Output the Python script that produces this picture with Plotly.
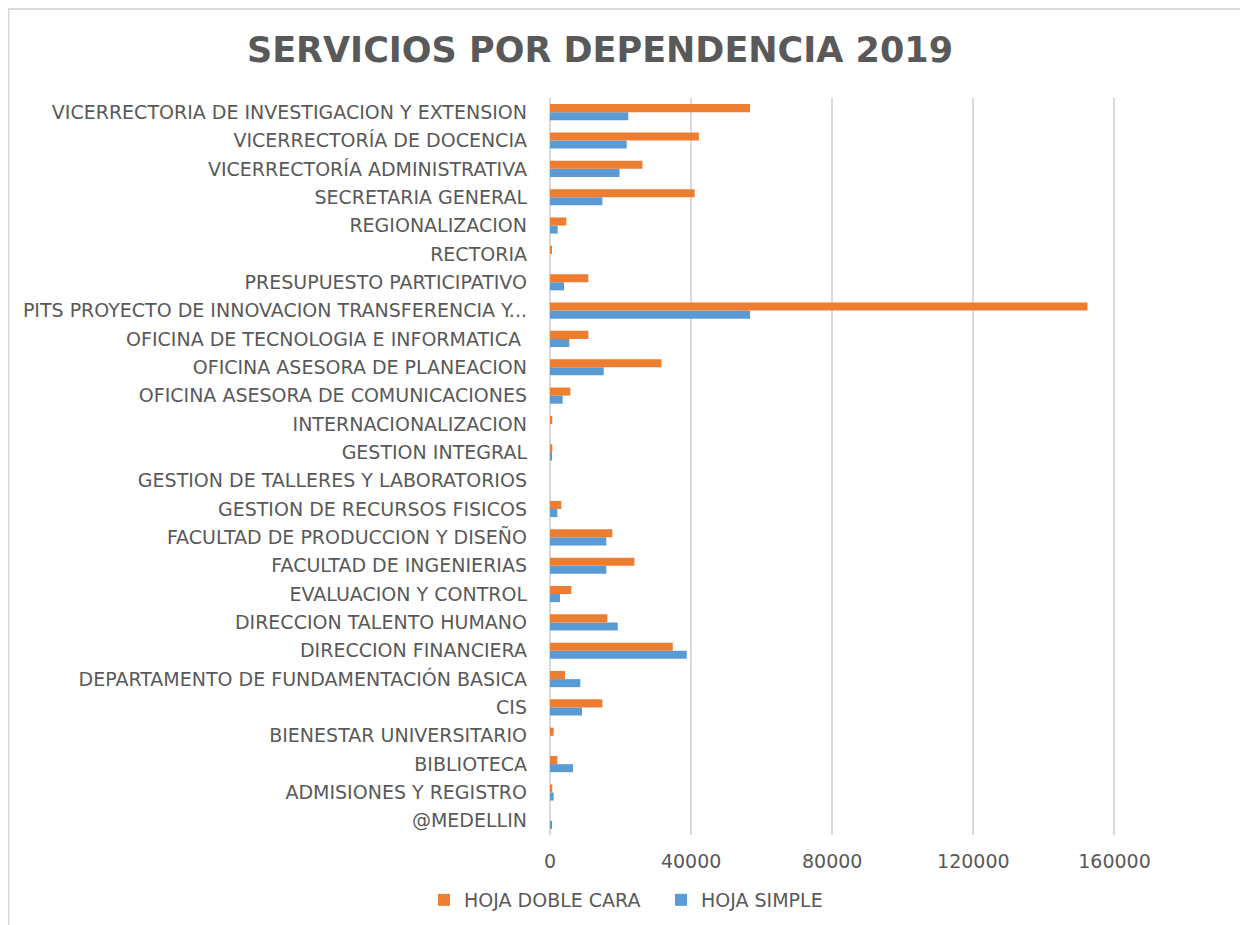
import plotly.graph_objects as go

# Categories listed from bottom to top
categories = [
    "@MEDELLIN",
    "ADMISIONES Y REGISTRO",
    "BIBLIOTECA",
    "BIENESTAR UNIVERSITARIO",
    "CIS",
    "DEPARTAMENTO DE FUNDAMENTACIÓN BASICA",
    "DIRECCION FINANCIERA",
    "DIRECCION TALENTO HUMANO",
    "EVALUACION Y CONTROL",
    "FACULTAD DE INGENIERIAS",
    "FACULTAD DE PRODUCCION Y DISEÑO",
    "GESTION DE RECURSOS FISICOS",
    "GESTION DE TALLERES Y LABORATORIOS",
    "GESTION INTEGRAL",
    "INTERNACIONALIZACION",
    "OFICINA ASESORA DE COMUNICACIONES",
    "OFICINA ASESORA DE PLANEACION",
    "OFICINA DE TECNOLOGIA E INFORMATICA ",
    "PITS PROYECTO DE INNOVACION TRANSFERENCIA Y...",
    "PRESUPUESTO PARTICIPATIVO",
    "RECTORIA",
    "REGIONALIZACION",
    "SECRETARIA GENERAL",
    "VICERRECTORÍA ADMINISTRATIVA",
    "VICERRECTORÍA DE DOCENCIA",
    "VICERRECTORIA DE INVESTIGACION Y EXTENSION",
]

hoja_doble_cara = [
    0, 650, 2080, 1040, 14850, 4260, 34800, 16260, 6050, 23920, 17680, 3210,
    0, 650, 650, 5770, 31580, 10870, 152350, 10870, 400, 4630, 41000, 26200,
    42200, 56700,
]

hoja_simple = [
    370, 1040, 6530, 0, 9080, 8600, 38780, 19200, 2840, 15970, 15970, 2080,
    0, 370, 0, 3600, 15230, 5480, 56700, 3970, 0, 2180, 14850, 19700,
    21750, 22200,
]

x_ticks = [0, 40000, 80000, 120000, 160000]

GRAY = "#595959"
GRID = "#D9D9D9"
FONT = "DejaVu Sans"

fig = go.Figure()
fig.add_trace(go.Bar(
    y=categories, x=hoja_simple, orientation="h", name="HOJA SIMPLE",
    marker=dict(color="#5B9BD5", line=dict(width=0)), legendrank=2,
))
fig.add_trace(go.Bar(
    y=categories, x=hoja_doble_cara, orientation="h", name="HOJA DOBLE CARA",
    marker=dict(color="#ED7D31", line=dict(width=0)), legendrank=1,
))

# page has an 8px body margin: positions below are screen pixels of the reference
OFF = 8
XMAX = 161000
W, H = 1248 - OFF, 925 - OFF
X0 = 550 - OFF
X1 = X0 + 564 * XMAX / 160000
YT, YB = 98 - OFF, 835 - OFF


def px(x):
    return (x - OFF - X0) / (X1 - X0)


def py(y):
    return (YB - (y - OFF)) / (YB - YT)


def cx(x):
    return (x - OFF) / W


def cy(y):
    return 1 - (y - OFF) / H


fig.update_layout(
    width=W, height=H,
    margin=dict(l=X0, r=W - X1, t=YT, b=H - YB, pad=0, autoexpand=False),
    paper_bgcolor="white", plot_bgcolor="white",
    barmode="group", bargap=0.43, bargroupgap=0,
    font=dict(family=FONT, color=GRAY, size=18),
    title=dict(
        text="<b>SERVICIOS POR DEPENDENCIA 2019</b>",
        x=cx(600), y=cy(50), xanchor="center", yanchor="middle",
        font=dict(family=FONT, size=35, color=GRAY),
    ),
    xaxis=dict(
        range=[0, XMAX], tickvals=x_ticks, ticktext=[str(v) for v in x_ticks],
        showgrid=True, gridcolor=GRID, gridwidth=2,
        zeroline=True, zerolinecolor=GRID, zerolinewidth=2,
        showline=False, ticks="", tickfont=dict(family=FONT, size=19, color=GRAY),
        ticklabelstandoff=13, fixedrange=True, automargin=False,
    ),
    yaxis=dict(
        categoryorder="array", categoryarray=categories,
        showgrid=False, showline=False, ticks="",
        tickfont=dict(family=FONT, size=19, color=GRAY), ticklabelstandoff=22,
        fixedrange=True, automargin=False,
    ),
    legend=dict(
        orientation="h", xref="container", yref="container",
        x=cx(424), y=cy(900), xanchor="left", yanchor="middle",
        font=dict(family=FONT, size=19, color=GRAY), itemwidth=30,
        entrywidthmode="pixels", entrywidth=192,
    ),
    showlegend=True,
    shapes=[
        dict(type="line", xref="paper", yref="paper",
             x0=px(OFF), x1=px(1248), y0=py(OFF + 1), y1=py(OFF + 1),
             line=dict(color=GRID, width=2)),
        dict(type="line", xref="paper", yref="paper",
             x0=px(OFF + 1), x1=px(OFF + 1), y0=py(OFF + 1), y1=py(925),
             line=dict(color=GRID, width=2)),
    ],
)

fig.write_html("out.html")
